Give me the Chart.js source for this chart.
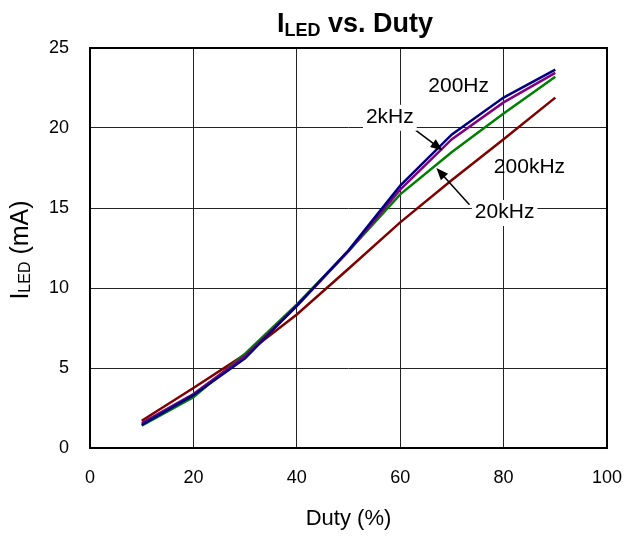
<!DOCTYPE html>
<html>
<head>
<meta charset="utf-8">
<script src="https://cdn.jsdelivr.net/npm/chart.js@4.4.0/dist/chart.umd.min.js"></script>
<style>
  html, body { margin: 0; padding: 0; background: #fff; }
  #wrap { width: 627px; height: 536px; }
</style>
</head>
<body>
<div id="wrap"><canvas id="chart" width="627" height="536"></canvas></div>
<script>
// Duty cycle (%) points
const duty = [10, 20, 30, 40, 50, 60, 70, 80, 90];
// ILED (mA) per PWM frequency
const f200Hz = [1.45, 3.3, 5.6, 8.9, 12.35, 16.4, 19.6, 21.9, 23.65];
const f2kHz = [1.55, 3.37, 5.75, 8.87, 12.3, 16.15, 19.3, 21.6, 23.45];
const f20kHz = [1.4, 3.18, 5.9, 8.97, 12.3, 15.85, 18.5, 20.9, 23.2];
const f200kHz = [1.7, 3.75, 5.85, 8.34, 11.2, 14.1, 16.75, 19.3, 21.9];
const xTicks = [0, 20, 40, 60, 80, 100];
const yTicks = [0, 5, 10, 15, 20, 25];

const FONT = "'Liberation Sans', Arial, sans-serif";

function pts(ys) {
  return duty.map((d, i) => ({ x: d, y: ys[i] }));
}

// text with subscript "LED"
function drawSubText(ctx, parts, x, y, align) {
  let total = 0;
  parts.forEach((p) => {
    ctx.font = p.font;
    p.w = ctx.measureText(p.t).width;
    total += p.w;
  });
  let cx = align === "center" ? x - total / 2 : x;
  parts.forEach((p) => {
    ctx.font = p.font;
    ctx.fillText(p.t, cx, y + (p.dy || 0));
    cx += p.w;
  });
}

const labelsPlugin = {
  id: "labels",
  afterDraw(chart) {
    const ctx = chart.ctx;
    const xs = chart.scales.x;
    const ys = chart.scales.y;
    ctx.save();
    ctx.fillStyle = "#000";
    ctx.textAlign = "left";
    ctx.textBaseline = "alphabetic";

    // title
    drawSubText(
      ctx,
      [
        { t: "I", font: "bold 27px " + FONT },
        { t: "LED", font: "bold 18px " + FONT, dy: 4 },
        { t: " vs. Duty", font: "bold 27px " + FONT },
      ],
      355,
      32,
      "center"
    );

    // y axis title
    ctx.save();
    ctx.translate(28, 250);
    ctx.rotate(-Math.PI / 2);
    drawSubText(
      ctx,
      [
        { t: "I", font: "25px " + FONT },
        { t: "LED", font: "16px " + FONT, dy: 2 },
        { t: " (mA)", font: "25px " + FONT },
      ],
      0,
      0,
      "center"
    );
    ctx.restore();

    // arrows
    const arrows = [
      [62.0, 20.1, 68.2, 18.6],
      [73.4, 15.2, 67.0, 17.5],
    ];
    arrows.forEach((a) => {
      const x1 = xs.getPixelForValue(a[0]);
      const y1 = ys.getPixelForValue(a[1]);
      const x2 = xs.getPixelForValue(a[2]);
      const y2 = ys.getPixelForValue(a[3]);
      const ang = Math.atan2(y2 - y1, x2 - x1);
      ctx.strokeStyle = "#000";
      ctx.lineWidth = 1.5;
      ctx.beginPath();
      ctx.moveTo(x1, y1);
      ctx.lineTo(x2 - 8 * Math.cos(ang), y2 - 8 * Math.sin(ang));
      ctx.stroke();
      ctx.fillStyle = "#000";
      ctx.beginPath();
      ctx.moveTo(x2, y2);
      ctx.lineTo(x2 - 13 * Math.cos(ang - 0.38), y2 - 13 * Math.sin(ang - 0.38));
      ctx.lineTo(x2 - 13 * Math.cos(ang + 0.38), y2 - 13 * Math.sin(ang + 0.38));
      ctx.closePath();
      ctx.fill();
    });

    // frequency labels
    const notes = [
      { t: "200Hz", x: 71.3, y: 22.6, bg: false },
      { t: "2kHz", x: 58.0, y: 20.7, bg: true },
      { t: "200kHz", x: 85, y: 17.55, bg: false },
      { t: "20kHz", x: 80.2, y: 14.75, bg: true },
    ];
    ctx.font = "21px " + FONT;
    ctx.textAlign = "center";
    ctx.textBaseline = "middle";
    notes.forEach((n) => {
      const px = xs.getPixelForValue(n.x);
      const py = ys.getPixelForValue(n.y);
      if (n.bg) {
        const w = ctx.measureText(n.t).width;
        ctx.fillStyle = "#fff";
        ctx.fillRect(px - w / 2 - 3, py - 12, w + 6, 26);
      }
      ctx.fillStyle = "#000";
      ctx.fillText(n.t, px, py);
    });

    // plot border
    const a = chart.chartArea;
    ctx.strokeStyle = "#000";
    ctx.lineWidth = 2;
    ctx.strokeRect(a.left, a.top, a.right - a.left, a.bottom - a.top);
    ctx.restore();
  },
};

new Chart(document.getElementById("chart"), {
  type: "line",
  data: {
    datasets: [
      { label: "200Hz", data: pts(f200Hz), borderColor: "#000080" },
      { label: "2kHz", data: pts(f2kHz), borderColor: "#800080" },
      { label: "20kHz", data: pts(f20kHz), borderColor: "#008000" },
      { label: "200kHz", data: pts(f200kHz), borderColor: "#800000" },
    ].map((d) => ({
      ...d,
      borderWidth: 2.5,
      pointRadius: 0,
      tension: 0,
      fill: false,
    })),
  },
  options: {
    responsive: false,
    animation: false,
    layout: { padding: { top: 48, right: 20, left: 0, bottom: 0 } },
    plugins: {
      legend: { display: false },
      tooltip: { enabled: false },
      title: { display: false },
    },
    scales: {
      x: {
        type: "linear",
        min: 0,
        max: 100,
        afterBuildTicks: (s) => {
          s.ticks = xTicks.map((v) => ({ value: v }));
        },
        afterFit: (s) => {
          s.height = 88;
          s.paddingLeft = 0;
          s.paddingRight = 0;
        },
        grid: { color: "#222", lineWidth: 1, drawTicks: false },
        border: { display: false },
        ticks: {
          color: "#000",
          padding: 19,
          maxRotation: 0,
          font: { family: FONT, size: 18 },
        },
        title: {
          display: true,
          text: "Duty (%)",
          color: "#000",
          padding: { top: 2 },
          font: { family: FONT, size: 22 },
        },
      },
      y: {
        min: 0,
        max: 25,
        afterBuildTicks: (s) => {
          s.ticks = yTicks.map((v) => ({ value: v }));
        },
        afterFit: (s) => {
          s.width = 90;
          s.paddingTop = 0;
          s.paddingBottom = 0;
        },
        grid: { color: "#222", lineWidth: 1, drawTicks: false },
        border: { display: false },
        ticks: {
          color: "#000",
          padding: 21,
          font: { family: FONT, size: 18 },
        },
      },
    },
  },
  plugins: [labelsPlugin],
});
</script>
</body>
</html>
